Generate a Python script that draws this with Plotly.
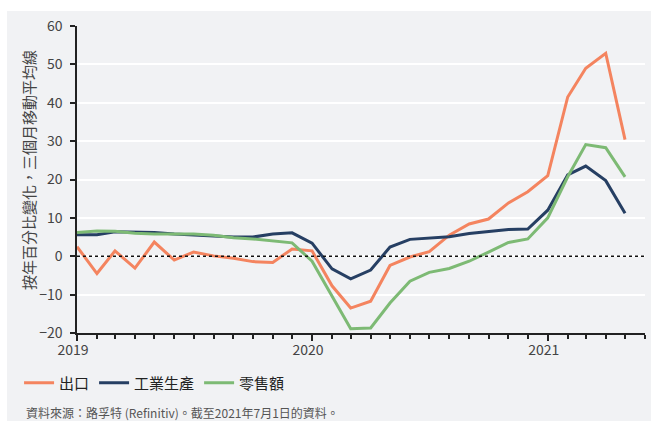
import plotly.graph_objects as go
import pandas as pd

months = pd.date_range("2019-01-01", "2021-05-01", freq="MS")

exports = [2.5, -4.5, 1.4, -3.1, 3.7, -1.0, 1.1, 0.1, -0.5, -1.4, -1.6, 1.9,
           1.4, -7.7, -13.5, -11.7, -2.4, -0.2, 1.2, 5.5, 8.4, 9.7, 13.9, 16.8,
           21.0, 41.5, 49.0, 52.9, 30.4]
industrial = [5.6, 5.6, 6.4, 6.3, 6.2, 5.8, 5.5, 5.2, 5.0, 5.0, 5.8, 6.1,
              3.4, -3.3, -5.9, -3.6, 2.4, 4.4, 4.7, 5.1, 5.9, 6.5, 7.0, 7.1,
              12.0, 21.2, 23.5, 19.7, 11.2]
retail = [6.2, 6.6, 6.5, 6.0, 5.8, 5.9, 5.8, 5.5, 4.8, 4.5, 4.0, 3.5,
          -1.3, -10.4, -18.9, -18.7, -12.2, -6.5, -4.2, -3.2, -1.3, 1.1, 3.6, 4.5,
          10.0, 20.7, 29.1, 28.3, 20.7]

series_names = ["出口", "工業生產", "零售額"]
series_colors = ["#F4845F", "#263F63", "#7DBA74"]
series_values = [exports, industrial, retail]

y_title = "按年百分比變化，三個月移動平均線"
source_text = "資料來源：路孚特 (Refinitiv)。截至2021年7月1日的資料。"

BG = "#F1F2F4"
FONT = "Noto Sans CJK TC"

fig = go.Figure()
for name, color, vals in zip(series_names, series_colors, series_values):
    fig.add_trace(go.Scatter(x=months, y=vals, mode="lines", name=name,
                             line=dict(color=color, width=3)))

fig.update_layout(
    width=651, height=421,
    margin=dict(l=77, r=6, t=26, b=88),
    paper_bgcolor="white",
    plot_bgcolor=BG,
    font=dict(family=FONT, size=14, color="#444444"),
    showlegend=True,
    legend=dict(orientation="h", x=-0.102, xanchor="left", y=-0.163, yanchor="middle",
                font=dict(size=15, color="#222222"), bgcolor="rgba(0,0,0,0)",
                itemwidth=30, tracegroupgap=0),
    shapes=[
        dict(type="rect", xref="paper", yref="paper", x0=(7 - 77) / 568, x1=1.1,
             y0=-0.4, y1=(333 - 11) / 307, fillcolor=BG, line=dict(width=0), layer="below"),
        dict(type="line", xref="paper", yref="y", x0=0, x1=1, y0=0, y1=0,
             line=dict(color="#111111", width=1.5, dash="dot")),
    ],
    annotations=[
        dict(text=y_title, xref="paper", yref="paper", x=(28 - 77) / 568, y=(333 - 170) / 307,
             textangle=-90, showarrow=False, xanchor="center", yanchor="middle",
             font=dict(size=15, color="#444444")),
        dict(text=source_text, xref="paper", yref="paper", x=(24 - 77) / 568, y=(333 - 412) / 307,
             showarrow=False, xanchor="left", yanchor="middle",
             font=dict(size=12, color="#555555")),
    ],
)

fig.update_xaxes(
    type="date", range=["2019-01-01", "2021-06-01"],
    dtick="M12", tick0="2019-01-01", tickformat="%Y",
    ticks="outside", ticklen=6, tickwidth=1.5, tickcolor="#222222",
    ticklabelstandoff=-3, ticklabelshift=-4,
    showline=True, linecolor="#222222", linewidth=1.5,
    showgrid=False, zeroline=False,
    minor=dict(dtick="M1", ticks="outside", ticklen=4, tickwidth=1.5, tickcolor="#222222", showgrid=False),
    tickfont=dict(size=14, color="#444444"),
)
fig.update_yaxes(
    range=[-20, 60], dtick=10,
    ticks="outside", ticklen=5, tickwidth=1.5, tickcolor="#222222",
    ticklabelstandoff=5,
    showline=True, linecolor="#222222", linewidth=1.5,
    showgrid=True, gridcolor="white", gridwidth=2,
    zeroline=False,
    tickfont=dict(size=14, color="#444444"),
)

fig.write_html("out.html")
